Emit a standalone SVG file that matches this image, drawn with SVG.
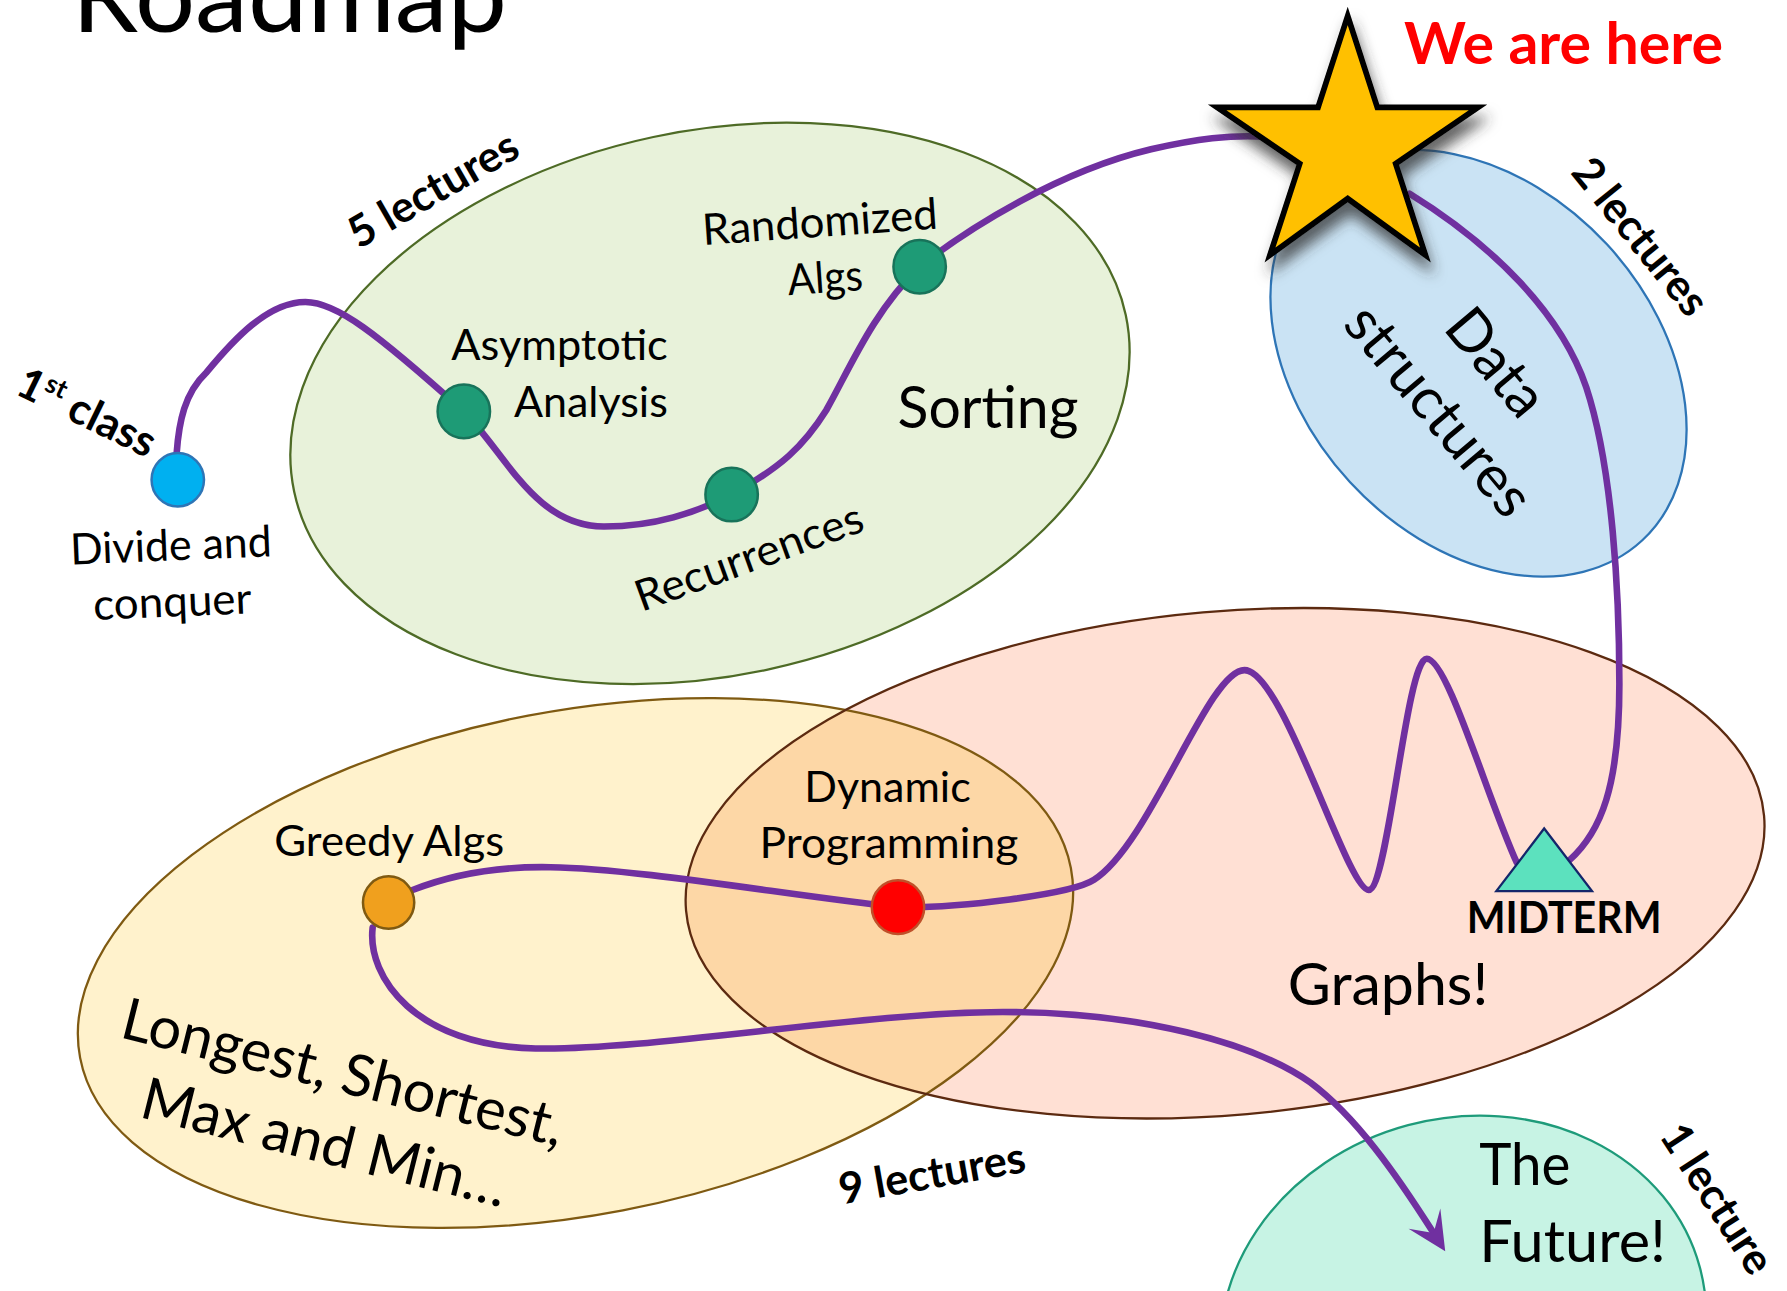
<svg xmlns="http://www.w3.org/2000/svg" width="1787" height="1291" viewBox="0 0 1787 1291">
  <defs>
    <style>
      text { font-family: Lato, "Open Sans", "Liberation Sans", sans-serif; fill: #000; }
      .lbl { font-size: 38px; }
      .big { font-size: 51px; }
      .cnt { font-size: 38px; font-weight: 700; }
      .route { fill: none; stroke: #7030A0; stroke-width: 5.8; stroke-linecap: round; }
      .topic { fill: #1E9B76; stroke: #18735A; stroke-width: 2.2; }
      .area { stroke-width: 2; }
    </style>
    <marker id="arrow" markerUnits="userSpaceOnUse" viewBox="-36 -18 38 36" markerWidth="38" markerHeight="36" refX="-19" refY="0" orient="auto">
      <path d="M0,0 L-34,-16.5 L-19,0 L-34,16.5 Z" fill="#7030A0"/>
    </marker>
    <filter id="shadow" x="-25%" y="-20%" width="150%" height="160%">
      <feDropShadow dx="3" dy="11" stdDeviation="6" flood-color="#333" flood-opacity="0.75"/>
    </filter>
    <clipPath id="graphsClip">
      <ellipse cx="1075" cy="757.5" rx="474.8" ry="220.9" transform="rotate(-5.03 1075 757.5)"/>
    </clipPath>
  </defs>

  <g transform="scale(1.1396)">
    <!-- topic areas -->
    <g id="area-sorting">
      <ellipse class="area" cx="623" cy="354" rx="373" ry="239" transform="rotate(-12 623 354)" fill="#E8F2DA" stroke="#4E6B26"/>
    </g>
    <g id="area-data-structures">
      <ellipse class="area" cx="1297.4" cy="318.8" rx="211.6" ry="153.6" transform="rotate(47.3 1297.4 318.8)" fill="#CAE3F4" stroke="#2E75B6"/>
    </g>
    <g id="area-optimisation">
      <ellipse cx="505" cy="845" rx="442.6" ry="221" transform="rotate(-10.85 505 845)" fill="#FFF2CC"/>
    </g>
    <g id="area-graphs">
      <ellipse cx="1075" cy="757.5" rx="474.8" ry="220.9" transform="rotate(-5.03 1075 757.5)" fill="#FFE0D4"/>
      <!-- overlap of the two lower areas -->
      <g clip-path="url(#graphsClip)">
        <ellipse cx="505" cy="845" rx="442.6" ry="221" transform="rotate(-10.85 505 845)" fill="#FDD7A6"/>
      </g>
      <ellipse class="area" cx="505" cy="845" rx="442.6" ry="221" transform="rotate(-10.85 505 845)" fill="none" stroke="#7F5A12"/>
      <ellipse class="area" cx="1075" cy="757.5" rx="474.8" ry="220.9" transform="rotate(-5.03 1075 757.5)" fill="none" stroke="#5C2A10"/>
    </g>
    <g id="area-future">
      <ellipse class="area" cx="1284" cy="1168" rx="215" ry="187" transform="rotate(-15 1284 1168)" fill="#C7F3E4" stroke="#1E9B7A"/>
    </g>

    <!-- the route through the course -->
    <g id="connectors">
      <path class="route" d="M155,398 C157,370 162,345 181,327 C205,298 235,265 268,265 C295,265 330,292 407,361"/>
      <path class="route" d="M407,361 C445,400 470,462 530,462 C575,462 610,450 642,434"/>
      <path class="route" d="M642,434 C685,410 705,392 725,360 C745,325 765,275 807,234"/>
      <path class="route" d="M807,234 C850,200 930,150 1010,131 C1050,122 1080,118 1110,120"/>
      <path class="route" d="M1237,170 C1310,215 1370,275 1392,340 C1415,410 1421,520 1421,600 C1421,690 1405,730 1377,755"/>
      <path class="route" d="M1331,757 C1305,700 1270,578 1252,578 C1234,578 1218,781 1201,781 C1182,781 1126,588 1092,588 C1060,588 1010,740 960,772 C940,785 840,797 788,796"/>
      <path class="route" d="M788,796 C700,787 560,762 483,761 C430,760 390,770 362,781"/>
      <path class="route" d="M327,814 C322,858 365,918 470,920 C570,922 760,888 880,888 C1000,888 1100,915 1150,950 C1190,980 1225,1030 1258,1082" marker-end="url(#arrow)"/>
    </g>

    <!-- stops -->
    <g id="node-divide-conquer">
      <ellipse cx="156" cy="421" rx="23" ry="23.5" fill="#00B0F0" stroke="#2E75B6" stroke-width="2.2"/>
    </g>
    <g id="node-asymptotic">
      <ellipse class="topic" cx="407" cy="361" rx="23" ry="23.5"/>
    </g>
    <g id="node-recurrences">
      <ellipse class="topic" cx="642" cy="434" rx="23" ry="23.5"/>
    </g>
    <g id="node-randomized">
      <ellipse class="topic" cx="807" cy="234" rx="23" ry="23.5"/>
    </g>
    <g id="node-greedy">
      <ellipse cx="341" cy="792" rx="22.5" ry="23" fill="#F0A01E" stroke="#7F5A12" stroke-width="2.2"/>
    </g>
    <g id="node-dp">
      <ellipse cx="788" cy="796" rx="23" ry="23.5" fill="#FF0000" stroke="#C0502A" stroke-width="2.2"/>
    </g>
    <g id="node-midterm">
      <polygon points="1313,782 1355,727 1397,782" fill="#5CE1BE" stroke="#14266A" stroke-width="2"/>
    </g>
    <g id="node-here">
      <polygon points="1182.6,14 1208.6,94.2 1297,94.2 1224.7,143.7 1250.8,223.8 1182.6,174.3 1114.4,223.8 1140.5,143.7 1068,94.2 1156.6,94.2" fill="#FFC000" stroke="#000" stroke-width="5" filter="url(#shadow)"/>
    </g>

    <!-- labels -->
    <g id="labels">
      <text x="63" y="28" font-size="90" textLength="382" lengthAdjust="spacingAndGlyphs">Roadmap</text>
      <text x="1232" y="56" font-size="51" font-weight="700" fill="#FF0000" style="fill:#FF0000" textLength="280" lengthAdjust="spacingAndGlyphs">We are here</text>

      <text class="cnt" transform="translate(381 168) rotate(-30)" text-anchor="middle" y="11">5 lectures</text>
      <text class="cnt" transform="translate(12 345) rotate(26)">1<tspan font-size="23" dy="-14">st</tspan><tspan dy="14"> class</tspan></text>
      <text class="cnt" transform="translate(1438 209) rotate(51)" text-anchor="middle" y="11">2 lectures</text>
      <text class="cnt" transform="translate(818.3 1031.7) rotate(-10)" text-anchor="middle" y="11">9 lectures</text>
      <text class="cnt" transform="translate(1505 1053) rotate(57)" text-anchor="middle" y="11">1 lecture</text>

      <text class="lbl" transform="translate(62 495.5) rotate(-2.4)" textLength="177" lengthAdjust="spacingAndGlyphs">Divide and</text>
      <text class="lbl" transform="translate(82.3 544) rotate(-2.4)" textLength="139" lengthAdjust="spacingAndGlyphs">conquer</text>

      <text class="lbl" x="586" y="316" text-anchor="end" textLength="190" lengthAdjust="spacingAndGlyphs">Asymptotic</text>
      <text class="lbl" x="586" y="365.6" text-anchor="end" textLength="135" lengthAdjust="spacingAndGlyphs">Analysis</text>

      <text class="lbl" transform="translate(617 215) rotate(-4)" textLength="207" lengthAdjust="spacingAndGlyphs">Randomized</text>
      <text class="lbl" transform="translate(692 259) rotate(-4)" textLength="66" lengthAdjust="spacingAndGlyphs">Algs</text>

      <text class="lbl" transform="translate(563 537) rotate(-20)" textLength="210" lengthAdjust="spacingAndGlyphs">Recurrences</text>

      <text class="big" x="787.6" y="375.8" textLength="158.7" lengthAdjust="spacingAndGlyphs">Sorting</text>

      <g transform="translate(1286 340.6) rotate(50)">
        <text class="big" x="0" y="-17.75" text-anchor="middle">Data</text>
        <text class="big" x="0" y="47.75" text-anchor="middle">structures</text>
      </g>

      <text class="lbl" x="240.7" y="751" textLength="201.7" lengthAdjust="spacingAndGlyphs">Greedy Algs</text>
      <text class="lbl" x="705.8" y="704" textLength="146" lengthAdjust="spacingAndGlyphs">Dynamic</text>
      <text class="lbl" x="666.5" y="753" textLength="227" lengthAdjust="spacingAndGlyphs">Programming</text>

      <text x="1287" y="819" font-size="38" font-weight="700" textLength="171" lengthAdjust="spacingAndGlyphs">MIDTERM</text>
      <text class="big" x="1130" y="882" textLength="176" lengthAdjust="spacingAndGlyphs">Graphs!</text>

      <text class="big" transform="translate(104 910) rotate(14)" textLength="398" lengthAdjust="spacingAndGlyphs">Longest, Shortest,</text>
      <text class="big" transform="translate(121 980) rotate(14)" textLength="329" lengthAdjust="spacingAndGlyphs">Max and Min…</text>

      <text class="big" x="1298" y="1040" textLength="80" lengthAdjust="spacingAndGlyphs">The</text>
      <text class="big" x="1298" y="1107" textLength="164" lengthAdjust="spacingAndGlyphs">Future!</text>
    </g>
  </g>
</svg>
